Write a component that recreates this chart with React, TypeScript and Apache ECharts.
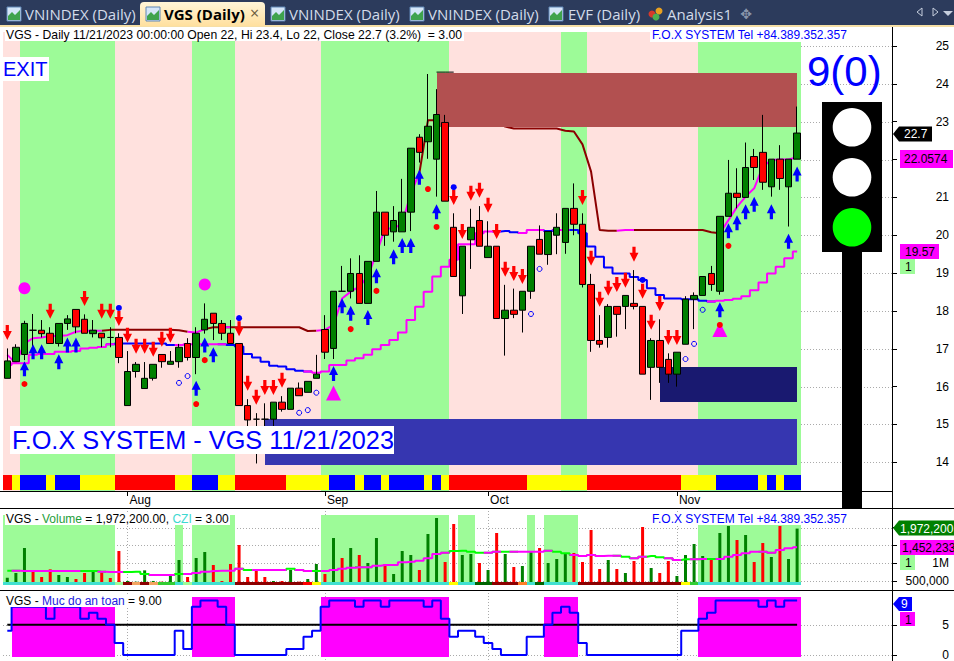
import React, { useEffect, useRef } from "react";
import * as echarts from "echarts";

const FONT = '"Liberation Sans", Arial, sans-serif';
const GREEN = "#008000", RED = "#FF0000", BLUE = "#0000FF", MAGENTA = "#FF00FF", MAROON = "#8B0000";
const ZONE_GREEN = "#9DFB98", ZONE_PINK = "#FFE1DE";

const BAR_COUNT = 93;
const SLOTS = 104;
const monthLabels: Record<number, string> = { 14: "Aug", 37: "Sep", 56: "Oct", 78: "Nov" };
const monthIndexes = [14, 37, 56, 78];
const priceTicks = [14, 15, 16, 17, 18, 19, 20, 21, 22, 23, 24, 25];
const priceLabels = [14, 15, 16, 17, 18, 19, 20, 21, 23, 24, 25];
const volumeTicks = [500000, 1000000, 1500000, 2000000];
const volumeLabels = [500000, 1000000];
const safetyTicks = [0, 5];

// open, close, low, high
const ohlc = [
  [16.22,16.68,16.22,17.01],[16.66,17.04,16.66,17.12],[16.85,17.67,16.7,17.74],[17.49,17.49,17.07,17.92],[17.49,17.4,17.3,17.76],
  [17.41,17.14,17.14,17.57],[17.14,17.67,17.06,17.67],[17.67,17.79,17.5,17.89],[18.04,17.58,17.41,18.04],[17.78,17.41,17.41,17.91],
  [17.4,17.49,17.3,17.76],[17.41,17.29,17.04,17.41],[17.3,17.3,17.04,17.57],[17.3,16.77,16.62,17.41],[15.5,16.4,15.5,16.94],
  [16.4,16.59,16.24,16.65],[15.95,16.22,15.95,16.65],[16.22,16.59,16.16,16.59],[16.85,16.66,16.5,16.85],[16.59,16.67,16.59,16.94],
  [16.66,17.04,16.5,17.13],[17.14,16.77,16.69,17.28],[16.77,17.41,16.33,17.57],[17.5,17.78,17.4,18.2],[17.94,17.67,17.23,17.94],
  [17.67,17.41,17.23,17.76],[17.41,17.14,17.14,17.76],[17.14,15.5,15.5,17.14],[15.5,15.12,14.94,15.67],[15.14,15.14,13.97,15.3],
  [15.14,15.14,14.94,15.56],[15.14,15.59,14.95,15.59],[15.59,15.4,15.34,15.75],[15.4,15.96,15.4,15.96],[15.96,15.76,15.76,16.11],
  [15.85,16.14,15.85,16.14],[16.22,16.33,16.22,16.84],[17.51,16.91,16.73,17.89],[17.01,18.52,16.73,18.52],[18.52,18.52,18.52,19.19],
  [18.52,18.99,18.33,19.39],[18.99,18.2,18.2,19.47],[18.2,19.31,18.2,19.31],[19.31,20.61,19.31,21.17],[20.61,20.0,19.72,20.61],
  [20.09,20.39,19.83,20.77],[20.09,20.61,20.09,21.49],[20.61,22.3,20.11,22.3],[22.59,22.19,21.92,22.67],[22.47,22.88,22.02,24.26],
  [22.01,23.19,21.02,23.86],[22.98,20.9,20.9,23.18],[20.21,18.91,18.91,20.58],[18.4,19.71,17.92,19.71],[19.88,20.21,19.11,20.7],
  [20.39,19.71,19.71,20.77],[19.41,19.71,19.41,20.37],[19.71,17.8,17.8,19.71],[17.8,18.02,16.82,18.69],[18.02,17.91,17.81,18.59],
  [18.02,18.52,17.43,18.52],[18.52,19.71,18.32,19.71],[19.89,19.5,19.5,20.26],[19.49,20.1,19.22,20.1],[20.0,20.21,19.5,20.58],
  [19.81,20.71,19.51,20.71],[20.71,20.29,20.0,21.37],[20.29,18.7,18.62,20.58],[18.7,17.22,16.92,18.98],[17.22,17.12,17.03,17.89],
  [17.3,18.12,17.03,18.18],[18.12,17.91,17.32,18.12],[18.12,18.41,17.52,18.41],[18.2,18.12,18.04,19.08],[18.12,16.33,16.33,18.12],
  [16.51,17.22,15.65,17.28],[17.22,16.51,16.1,17.78],[16.72,16.33,16.1,16.88],[16.33,16.91,16.0,16.91],[17.12,18.31,17.12,18.39],
  [18.31,18.41,17.52,18.49],[18.41,18.91,18.41,18.91],[18.99,18.7,18.53,19.19],[18.52,20.5,18.43,20.5],[20.5,21.11,20.5,21.99],
  [21.11,21.0,20.71,21.77],[21.0,21.79,21.0,22.45],[22.08,21.79,21.46,22.28],[22.19,21.4,21.2,23.18],[21.28,22.01,21.02,22.01],
  [22.01,21.5,21.2,22.38],[21.28,22.01,20.23,22.01],[22.01,22.7,22.01,23.4],
];

const upperLine = [16.84,16.62,17.14,17.28,17.3,17.34,17.34,17.36,17.45,17.48,17.48,17.48,17.5,17.5,17.5,17.5,17.5,17.5,17.5,17.5,17.49,17.45,17.43,17.52,17.57,17.57,17.57,17.57,17.57,17.57,17.57,17.57,17.57,17.57,17.57,17.47,17.48,17.5,17.63,18.33,18.51,18.64,18.91,19.52,20.18,20.18,20.31,21.11,21.64,23.04,23.04,23.04,23.04,23.04,23.04,23.04,23.04,23.04,22.87,22.82,22.82,22.82,22.82,22.82,22.82,22.76,22.74,22.4,21.68,20.14,20.12,20.12,20.14,20.14,20.14,20.14,20.14,20.14,20.14,20.14,20.14,20.14,20.08,20.05,20.4,20.75,21.02,21.24,21.81,21.99,22.0,22.0,22.06];
const upperColors = ["A","MMMMMMMMMMM","AAAAAAAAAA","MM","AA","M","AAAAAAAAAA","MMMMMMMMMMMM","AAAAAAAAAAAAAAAAAAAAAAA","MM","AAAAAAAAAA","MMMMMMMMM"].join("");
const lowerLine = [16.57,16.62,16.62,16.84,16.86,16.86,16.92,16.92,16.94,17.01,17.03,17.05,17.12,17.14,17.14,17.14,17.14,17.14,17.14,17.1,17.1,17.12,17.12,17.12,17.12,17.12,17.1,17.06,16.86,16.77,16.66,16.55,16.53,16.46,16.42,16.4,16.37,16.4,16.57,16.57,16.69,16.75,16.84,16.99,17.1,17.23,17.43,17.76,18.11,18.51,18.91,19.17,19.35,19.76,19.76,20.05,20.1,20.1,20.11,20.08,20.06,20.14,20.14,20.11,20.14,20.14,20.14,20.05,19.7,19.43,19.15,18.99,18.99,18.9,18.82,18.6,18.42,18.33,18.33,18.31,18.31,18.27,18.25,18.27,18.29,18.32,18.39,18.55,18.75,18.99,19.17,19.39,19.57];
const lowerColors = ["MMMMMMMMMMMMM","BBBBBBBB","MMMMM","BBBBBBBBBB","MMMMMMMMMMMMMMMMMMMMMM","BBB","MM","BB","M","BBBBBBBBBBBBBBBBB","MMMMMMMMMM"].join("");

const greenZones = [[2,12],[22,26],[37,51],[65,67],[81,92]];
const pinkZones = [[0,1],[13,21],[27,36],[52,64],[68,80]];
const levelBoxes = [
  { from: 50, to: 92, high: 24.29, low: 22.86, color: "#B25050" },
  { from: 76, to: 92, high: 16.52, low: 15.59, color: "#191970" },
  { from: 30, to: 92, high: 15.15, low: 13.93, color: "#3636B0" },
];
const capLevel = [[50,24.31],[51,24.31],[52,24.31]];

const sellArrows = [[0,17.43],[5,17.99],[9,18.33],[11,17.99],[12,17.99],[13,17.8],[14,17.36],[15,17.07],[16,17.07],[17,16.99],[18,17.25],[19,17.36],[27,17.53],[28,16.09],[29,15.72],[30,15.98],[31,15.98],[32,16.17],[52,21.0],[53,20.1],[54,21.11],[55,21.19],[56,20.79],[57,20.1],[58,19.1],[59,18.99],[60,18.91],[67,21.0],[68,19.39],[69,18.31],[70,18.6],[71,18.7],[72,18.81],[73,19.5],[74,18.52],[75,17.7],[76,18.2],[77,17.3],[78,17.3]];
const buyArrows = [[2,16.47],[3,16.92],[4,16.92],[6,16.66],[7,17.1],[8,17.1],[22,15.96],[23,17.1],[24,16.84],[38,16.35],[39,18.14],[40,17.94],[42,17.83],[43,18.93],[45,19.43],[46,19.73],[47,19.73],[48,21.53],[50,20.62],[83,18.03],[84,20.12],[85,20.33],[86,20.62],[87,20.82],[89,20.62],[91,19.84],[92,21.62]];
const redDots = [[2,16.07],[22,15.54],[23,16.7],[40,17.52],[43,18.53],[49,21.22],[50,20.22],[83,17.63],[84,19.72]];
const blueDots = [[13,18.08],[27,17.81],[52,21.27],[74,18.82]];
const openDiamonds = [[20,16.1],[21,16.28],[34,15.31],[35,15.38],[36,15.84],[61,17.92],[62,19.11],[79,16.73],[80,17.13],[81,18.03]];
const magentaCircles = [[2,18.6],[23,18.7]];
const magentaTriangles = [[38,15.83],[83,17.51]];

const trendCodes = "RYBBBYBBBYYYYRRRRRRRYYBBBYYRRRRRRYYYYYBBBYBBYBBBBYBYRRRRRRRRRYYYYYYYRRRRRRRRRRRYYYYBBBBBYBYBB";
const trendPalette: Record<string, string> = { R: "#FF0000", Y: "#FFFF00", B: "#0000FF" };

const volumes = [602,732,1430,760,620,834,676,620,564,732,788,760,592,1346,508,490,806,510,490,667,1095,620,1151,1318,955,508,983,1514,620,843,620,508,508,816,490,564,983,704,1709,1151,1430,1235,1011,1709,983,704,1346,1235,816,1821,2268,1039,2100,1235,1262,1011,816,1849,1262,899,927,1346,1430,1011,1123,1262,1290,1039,1933,843,1095,843,732,1067,2017,871,732,1067,648,1235,1542,1207,1123,1849,2045,1654,1793,1039,1570,1179,2045,1123,1972.2];
const volumeColors = ["gggrrrggrr","grrrggggrg","grggrrrrrr","rgrgrggrgr","grggrgggrg","grrggrgrgr","ggrgggrrrr","grgrrgrrgg","ggrggrgrrg","rgg"].join("");
const volumeZones = [[0,12],[20,20],[22,26],[37,51],[53,54],[61,61],[63,66],[81,92]];
const volumeAverage = [797,797,788,788,788,788,788,788,788,788,788,769,760,760,760,769,704,676,676,676,704,704,732,769,788,797,797,853,816,816,816,816,816,853,816,788,788,788,816,853,881,890,890,937,955,955,1030,1048,1076,1142,1263,1300,1346,1356,1328,1300,1300,1328,1328,1328,1328,1328,1328,1356,1328,1281,1235,1207,1235,1207,1216,1216,1188,1142,1188,1207,1170,1142,1095,1114,1114,1123,1123,1123,1188,1235,1281,1328,1328,1300,1374,1421,1452];
const volumeAverageColors = ["GG","MMMMMMM","GGG","MM","GGGG","MM","GG","MMMMMM","GG","MMM","GG","M","GG","MMMM","G","MMMMMMMMM","GGGGG","M","GG","MMMM","GGG","MM","G","MM","GG","M","GGG","M","GG","M","GG","MMMMM","G","MMM"].join("");
const volumeStripCodes = ["CCCCCCCCCCCCC","LDSDSGGCL","CCCCC","DDDDDDDD","RY","CCCCCCCCCCCCCCC","YCC","KK","DDD","OCK","CCCC","DDDDDDDDDDDD","YG","CCCCCCCCCCCC"].join("");
const stripPalette: Record<string, string> = { C: "#40E0D0", L: "#9DFB98", D: "#8B0000", S: "#F4A460", G: "#32CD32", R: "#FF0000", Y: "#FFFF00", K: "#006400", O: "#FF7F27" };

const safetyZones = [[1,12],[22,26],[37,51],[63,66],[81,92]];
const safetyLevel = [4,8,8,8,8,6,8,8,8,6,7,6,5,2,0,0,0,0,0,0,4,1,8,9,9,8,5,0,0,0,0,0,0,1,1,3,4,8,9,9,9,8,9,9,8,9,9,9,9,8,9,6,3,4,4,3,2,1,0,0,0,3,3,5,7,8,7,2,0,0,0,0,0,0,0,0,0,0,0,4,4,6,7,9,9,9,9,9,8,9,8,9,9];
const safetyBaseline = ohlc.map(() => 5);

const categories = ohlc.map((_, i) => String(i));

const tabs = [
  { label: "VNINDEX (Daily)", icon: 7, text: 25 },
  { label: "VNINDEX (Daily)", icon: 271, text: 289 },
  { label: "VNINDEX (Daily)", icon: 410, text: 428 },
  { label: "EVF (Daily)", icon: 549, text: 568 },
];

function bySegments(values: number[], colors: string, code: string) {
  return values.map((v, i) => (colors[i] === code || colors[i + 1] === code ? v : null));
}

function toRuns(codes: string) {
  const runs: { from: number; to: number; code: string }[] = [];
  for (let i = 0; i < codes.length; i++) {
    const last = runs[runs.length - 1];
    if (last && last.code === codes[i]) last.to = i;
    else runs.push({ from: i, to: i, code: codes[i] });
  }
  return runs;
}

function bands(runs: { from: number; to: number; top: number; bottom: number; color: string }[], panel: number, z: number, atCenters = false) {
  return {
    type: "custom", xAxisIndex: panel, yAxisIndex: panel, z, clip: false, silent: true,
    data: runs.map((r) => [r.from, r.to, r.top, r.bottom]),
    renderItem: (p: any, api: any) => {
      const a = api.coord([api.value(0), api.value(2)]);
      const b = api.coord([api.value(1), api.value(3)]);
      const half = atCenters ? 0 : api.size([1, 0])[0] / 2;
      const x = Math.round(a[0] - half), x2 = Math.round(b[0] + half);
      const y = Math.round(a[1]), y2 = Math.round(b[1]);
      return { type: "rect", shape: { x, y, width: x2 - x, height: y2 - y }, style: { fill: runs[p.dataIndex].color } };
    },
  };
}

function hGrid(values: number[], panel: number) {
  return {
    type: "custom", xAxisIndex: panel, yAxisIndex: panel, z: 0, silent: true, clip: false,
    data: values.map((v) => [0, v]),
    renderItem: (p: any, api: any) => {
      const y = Math.round(api.coord([0, api.value(1)])[1]) + 0.5;
      return { type: "line", shape: { x1: p.coordSys.x, y1: y, x2: 892, y2: y }, style: { stroke: "#aaaaaa", lineWidth: 1, lineDash: [1, 2] } };
    },
  };
}

function vGrid(values: number[], panel: number, low: number) {
  return {
    type: "custom", xAxisIndex: panel, yAxisIndex: panel, z: 0, silent: true, clip: false,
    data: values.map((v) => [v, low]),
    renderItem: (p: any, api: any) => {
      const x = Math.round(api.coord([api.value(0), api.value(1)])[0]) + 0.5;
      return { type: "line", shape: { x1: x, y1: p.coordSys.y, x2: x, y2: p.coordSys.y + p.coordSys.height }, style: { stroke: "#aaaaaa", lineWidth: 1, lineDash: [1, 2] } };
    },
  };
}

function line(data: (number | null)[], color: string, panel: number, z: number, step: any, width = 2) {
  return {
    type: "line", data, xAxisIndex: panel, yAxisIndex: panel, z, step, silent: true,
    showSymbol: false, symbol: "none", connectNulls: false,
    lineStyle: { color, width }, itemStyle: { color },
  };
}

function marks(data: number[][], symbol: any, size: any, style: any, z: number) {
  return { type: "scatter", data, xAxisIndex: 0, yAxisIndex: 0, symbol, symbolSize: size, itemStyle: { opacity: 1, ...style }, z, silent: true };
}

const UP = "path://M7 0 L14 9 L9.5 9 L9.5 15 L4.5 15 L4.5 9 L0 9 Z";
const DOWN = "path://M4.5 0 L9.5 0 L9.5 6 L14 6 L7 15 L0 6 L4.5 6 Z";

function T(x: number, y: number, text: string, fill: string, font: string, align = "left") {
  return { type: "text", x, y, z: 100, silent: true, style: { text, fill, font, align, verticalAlign: "middle" } };
}
function R(x: number, y: number, width: number, height: number, fill: any, r?: any) {
  return { type: "rect", z: 99, silent: true, shape: { x, y, width, height, r }, style: { fill } };
}
function icon(x: number) {
  return [
    { type: "rect", z: 100, silent: true, shape: { x, y: 7, width: 14, height: 14 }, style: { fill: "#D5E6F8", stroke: "#5E86B5", lineWidth: 1 } },
    { type: "polygon", z: 101, silent: true, shape: { points: [[x + 1, 20], [x + 1, 16], [x + 5, 12], [x + 8, 15], [x + 13, 10], [x + 13, 20]] }, style: { fill: "#3FA34D" } },
  ];
}
function tag(y: number, x2: number, color: string) {
  return { type: "polygon", z: 99, silent: true, shape: { points: [[893, y], [899, y - 7.5], [x2, y - 7.5], [x2, y + 7.5], [899, y + 7.5]] }, style: { fill: color } };
}
function circle(cy: number, fill: string) {
  return { type: "circle", z: 100, silent: true, shape: { cx: 852, cy, r: 19.3 }, style: { fill } };
}
function rule(x1: number, y1: number, x2: number, y2: number, lineWidth = 1) {
  return { type: "line", z: 98, silent: true, shape: { x1, y1, x2, y2 }, style: { stroke: "#000", lineWidth } };
}

export default function App() {
  const ref = useRef<HTMLDivElement>(null);
  useEffect(() => {
    document.body.style.margin = "0";
    const chart = echarts.init(ref.current!, null, { renderer: "svg" });
    const small = `12px ${FONT}`;
    const tabFont = '15px "Open Sans", "Noto Sans", sans-serif';
    const activeFill = new echarts.graphic.LinearGradient(0, 0, 0, 1, [{ offset: 0, color: "#FFF5D8" }, { offset: 1, color: "#FFE09F" }]);
    const richBase = { font: small };
    const graphics: any[] = [
      R(0, 0, 954, 25, "#2C3B5C"),
      R(0, 25, 954, 2, "#F6DFA6"),
      R(140, 2, 125, 24, activeFill, [4, 4, 0, 0]),
      ...icon(146),
      T(164, 14, "VGS (Daily)", "#000", 'bold 15px "Open Sans", "Noto Sans", sans-serif'),
      T(250, 13, "×", "#6b5a3a", '16px "Open Sans", sans-serif'),
      ...tabs.flatMap((t) => [...icon(t.icon), T(t.text, 14, t.label, "#D3DCEA", tabFont)]),
      { type: "circle", z: 100, silent: true, shape: { cx: 652, cy: 14, r: 3.5 }, style: { fill: "#D53A2B" } },
      { type: "circle", z: 100, silent: true, shape: { cx: 659, cy: 11, r: 3.5 }, style: { fill: "#E8A020" } },
      { type: "circle", z: 100, silent: true, shape: { cx: 656, cy: 17, r: 3.5 }, style: { fill: "#4CAF50" } },
      T(667, 14, "Analysis1", "#D3DCEA", tabFont),
      T(746, 14, "✥", "#8995AB", '14px "DejaVu Sans", sans-serif', "center"),
      { type: "polygon", z: 100, silent: true, shape: { points: [[922, 8], [917, 12], [922, 16]] }, style: { fill: "none", stroke: "#C5CEDD" } },
      { type: "polygon", z: 100, silent: true, shape: { points: [[933, 8], [938, 12], [933, 16]] }, style: { fill: "none", stroke: "#C5CEDD" } },
      { type: "polygon", z: 100, silent: true, shape: { points: [[943, 11], [953, 11], [948, 16]] }, style: { fill: "#C5CEDD" } },

      R(5, 27, 459, 14, "#fff"),
      T(6, 34.5, "VGS - Daily 11/21/2023 00:00:00 Open 22, Hi 23.4, Lo 22, Close 22.7 (3.2%)  = 3.00", "#000", `12.2px ${FONT}`),
      R(650, 27, 198, 15, "#fff"),
      T(652, 34.5, "F.O.X SYSTEM Tel +84.389.352.357", BLUE, small),
      R(3, 57, 46, 24, "#fff"),
      T(3, 69, "EXIT", BLUE, `20px ${FONT}`),
      R(10, 426, 384, 28, "#fff"),
      T(12, 440, "F.O.X SYSTEM - VGS 11/21/2023", BLUE, `25.3px ${FONT}`),
      T(807, 71, "9(0)", BLUE, `42px ${FONT}`),

      R(822, 102, 60, 150, "#000"),
      R(842, 252, 20, 256, "#000"),
      circle(127.3, "#fff"), circle(177.3, "#fff"), circle(227.3, "#00FF00"),

      rule(0, 491.5, 892, 491.5), rule(0, 508.5, 954, 508.5), rule(0, 590.5, 954, 590.5),
      rule(892.5, 26, 892.5, 661, 1),

      tag(134, 932, "#000"), T(904, 134, "22.7", "#fff", small),
      R(900, 150, 53, 18, MAGENTA), T(904, 159, "22.0574", "#000", small),
      R(900, 244, 39, 15, MAGENTA), T(905, 252, "19.57", "#000", small),
      R(900, 259, 15, 15, ZONE_GREEN), T(905, 267, "1", "#000", small),

      R(5, 512, 225, 13, "#fff"),
      {
        type: "text", x: 6, y: 518.5, z: 100, silent: true,
        style: {
          text: "{a|VGS - }{b|Volume}{a| = 1,972,200.00, }{c|CZI}{a| = 3.00}", verticalAlign: "middle", font: small,
          rich: { a: { ...richBase, fill: "#000" }, b: { ...richBase, fill: "#1E9E3A" }, c: { ...richBase, fill: "#40D8D0" } },
        },
      },
      R(650, 512, 198, 13, "#fff"),
      T(652, 518.5, "F.O.X SYSTEM Tel +84.389.352.357", BLUE, small),
      tag(528, 954, "#008000"), T(900, 528.5, "1,972,200", "#fff", small),
      R(900, 540, 54, 15, MAGENTA), T(902, 548, "1,452,233", "#000", small),
      R(900, 555, 15, 15, ZONE_GREEN), T(905, 563, "1", "#000", small),

      R(5, 595, 156, 12, "#fff"),
      {
        type: "text", x: 6, y: 600.5, z: 100, silent: true,
        style: {
          text: "{a|VGS - }{b|Muc do an toan}{a| = 9.00}", verticalAlign: "middle", font: small,
          rich: { a: { ...richBase, fill: "#000" }, b: { ...richBase, fill: "#2020E0" } },
        },
      },
      { type: "polygon", z: 99, silent: true, shape: { points: [[893, 604], [899, 597], [912, 597], [912, 611], [899, 611]] }, style: { fill: BLUE } },
      T(901, 604, "9", "#fff", small),
      R(900, 612, 15, 14, MAGENTA), T(905, 619.5, "1", "#000", small),
    ];

    const axisBase = {
      type: "value", position: "right", scale: true, offset: -3.84,
      splitLine: { show: false }, axisLine: { show: false },
    };
    const tickStyle = { show: true, length: 5, lineStyle: { color: "#000" } };
    const labelStyle = { color: "#000", fontFamily: FONT, fontSize: 12, margin: 57, align: "right" };

    const option: any = {
      animation: false,
      backgroundColor: "#fff",
      tooltip: { show: false },
      legend: { show: false },
      grid: [
        { left: 3, top: 27, width: 8.585 * SLOTS, height: 464 },
        { left: 3, top: 508, width: 8.585 * SLOTS, height: 77 },
        { left: 3, top: 590, width: 8.585 * SLOTS, height: 71 },
      ],
      xAxis: [
        {
          type: "category", gridIndex: 0, data: categories.concat(Array(SLOTS - BAR_COUNT).fill("")),
          axisLine: { show: false },
          axisTick: { show: true, length: 5, alignWithLabel: true, interval: (i: number) => !!monthLabels[i], lineStyle: { color: "#000" } },
          axisLabel: {
            show: true, interval: (i: number) => !!monthLabels[i], formatter: (_: string, i: number) => monthLabels[i] || "",
            align: "left", margin: 3, padding: [0, 0, 0, 2], color: "#000", fontFamily: FONT, fontSize: 12, hideOverlap: false,
          },
          splitLine: { show: false },
        },
        { type: "category", gridIndex: 1, show: false, data: categories.concat(Array(SLOTS - BAR_COUNT).fill("")) },
        { type: "category", gridIndex: 2, show: false, data: categories.concat(Array(SLOTS - BAR_COUNT).fill("")) },
      ],
      yAxis: [
        {
          ...axisBase, gridIndex: 0, min: 13.243, max: 25.502,
          axisTick: { ...tickStyle, customValues: priceTicks },
          axisLabel: { ...labelStyle, customValues: priceLabels, formatter: (v: number) => String(v) },
        },
        {
          ...axisBase, gridIndex: 1, min: 397000, max: 2547000,
          axisTick: { ...tickStyle, customValues: volumeTicks },
          axisLabel: { ...labelStyle, customValues: volumeLabels, formatter: (v: number) => (v === 1000000 ? "1M" : "500,000") },
        },
        {
          ...axisBase, gridIndex: 2, min: -0.81, max: 10.75,
          axisTick: { ...tickStyle, customValues: safetyTicks },
          axisLabel: { ...labelStyle, customValues: safetyTicks, formatter: (v: number) => String(v) },
        },
      ],
      graphic: { elements: graphics },
      series: [
        hGrid(priceTicks, 0),
        hGrid(volumeTicks, 1),
        hGrid(safetyTicks, 2),
        vGrid(monthIndexes, 1, 1000000),
        vGrid(monthIndexes, 2, 1),

        bands(pinkZones.map(([from, to]) => ({ from, to, top: 25.37, bottom: 13.243, color: ZONE_PINK })), 0, 1),
        bands(greenZones.map(([from, to]) => ({ from, to, top: 25.37, bottom: 13.243, color: ZONE_GREEN })), 0, 1),

        line(bySegments(upperLine, upperColors, "A"), MAROON, 0, 2, false),
        line(bySegments(upperLine, upperColors, "M"), MAGENTA, 0, 2, false),
        line(bySegments(lowerLine, lowerColors, "B"), BLUE, 0, 2, "middle"),
        line(bySegments(lowerLine, lowerColors, "M"), MAGENTA, 0, 2, "middle"),

        bands(levelBoxes.map((b) => ({ from: b.from, to: b.to, top: b.high, bottom: b.low, color: b.color })), 0, 3, true),
        line(categories.map((_, i) => capLevel.find((c) => c[0] === i)?.[1] ?? null), "#000", 0, 4, false, 1),

        marks(magentaTriangles, "triangle", [15, 15], { color: MAGENTA }, 4),
        {
          type: "candlestick", xAxisIndex: 0, yAxisIndex: 0, z: 5, barWidth: 7, silent: true,
          data: ohlc,
          itemStyle: { color: GREEN, color0: RED, borderColor: "#000", borderColor0: "#000", borderColorDoji: "#000", borderWidth: 1 },
        },
        bands(toRuns(trendCodes).map((r) => ({ from: r.from, to: r.to, top: 13.67, bottom: 13.27, color: trendPalette[r.code] })), 0, 6),

        marks(sellArrows, DOWN, [9, 15], { color: RED }, 7),
        marks(buyArrows, UP, [9, 15], { color: BLUE }, 7),
        marks(redDots, "circle", 6, { color: RED }, 8),
        marks(blueDots, "circle", 6, { color: BLUE }, 8),
        marks(openDiamonds, "circle", 5, { color: "transparent", borderColor: BLUE, borderWidth: 1 }, 8),
        marks(magentaCircles, "circle", 12, { color: MAGENTA }, 8),

        bands(volumeZones.map(([from, to]) => ({ from, to, top: 2352000, bottom: 397000, color: ZONE_GREEN })), 1, 1),
        {
          type: "bar", xAxisIndex: 1, yAxisIndex: 1, z: 3, barWidth: 3, silent: true,
          data: volumes.map((v, i) => ({ value: v * 1000, itemStyle: { color: volumeColors[i] === "r" ? RED : GREEN } })),
        },
        bands(toRuns(volumeStripCodes).map((r) => ({ from: r.from, to: r.to, top: 480000, bottom: 397000, color: stripPalette[r.code] })), 1, 4),
        line(bySegments(volumeAverage.map((v) => v * 1000), volumeAverageColors, "G"), "#00FF00", 1, 5, "middle"),
        line(bySegments(volumeAverage.map((v) => v * 1000), volumeAverageColors, "M"), MAGENTA, 1, 5, "middle"),

        bands(safetyZones.map(([from, to]) => ({ from, to, top: 9.6, bottom: -0.3, color: MAGENTA })), 2, 1),
        line(safetyBaseline, "#000", 2, 2, false),
        line(safetyLevel, BLUE, 2, 3, "middle"),
      ],
    };
    chart.setOption(option);
    return () => chart.dispose();
  }, []);
  return <div ref={ref} style={{ position: "absolute", left: 0, top: 0, width: 954, height: 661 }} />;
}
